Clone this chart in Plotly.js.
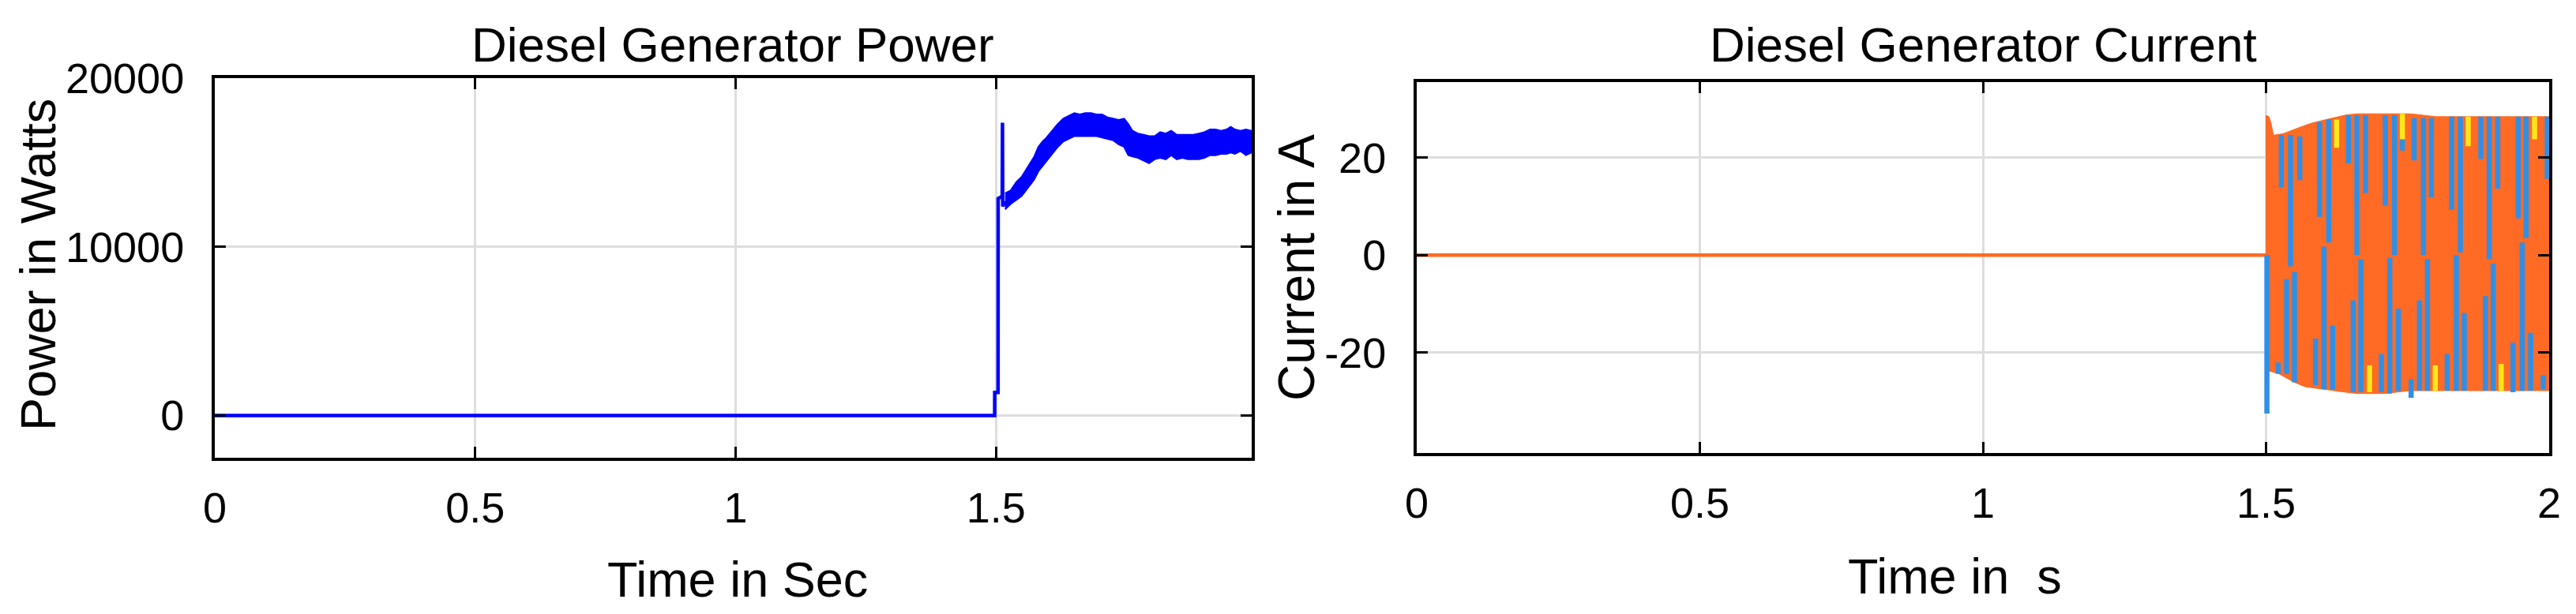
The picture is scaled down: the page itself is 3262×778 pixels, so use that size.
<!DOCTYPE html>
<html><head><meta charset="utf-8">
<script src="https://cdn.plot.ly/plotly-3.0.1.min.js"></script>
<style>html,body{margin:0;padding:0;background:#fff;}#chart{width:3262px;height:778px;}</style>
</head><body><div id="chart"></div>
<script>
// ---------------- data ----------------
// Left: Diesel generator power
const powerStepTime  = [0, 1.4975, 1.4976, 1.5040, 1.5042, 1.5120, 1.5125, 1.5130, 1.5175];
const powerStepWatts = [0, 0, 1370, 1370, 12860, 13000, 17360, 12400, 12700];

const powerBandTime = [1.5175,1.5282,1.5388,1.5494,1.5574,1.5654,1.5734,1.5813,1.5893,1.5973,
  1.6079,1.6186,1.6292,1.6398,1.6505,1.6611,1.6717,1.6824,1.6930,1.7036,
  1.7142,1.7249,1.7355,1.7461,1.7541,1.7621,1.7727,1.7834,1.7940,1.8046,
  1.8153,1.8259,1.8365,1.8472,1.8578,1.8684,1.8791,1.8897,1.9003,1.9110,
  1.9216,1.9322,1.9428,1.9508,1.9588,1.9694,1.9801,1.9907];
const powerBandUpper = [13180,13340,13830,14150,14550,14950,15350,15920,16240,16480,
  16880,17280,17600,17770,17930,17850,17930,17930,17850,17850,
  17680,17600,17520,17600,17280,16880,16720,16640,16560,16560,
  16800,16720,16880,16640,16640,16640,16640,16720,16800,16960,
  16960,16880,16960,17120,16960,16880,16960,16880];
const powerBandLower = [12220,12540,12780,13020,13340,13670,13990,14470,14790,15110,
  15510,15920,16240,16400,16560,16560,16560,16560,16560,16480,
  16400,16320,16080,15920,15430,15350,15270,15110,14950,15190,
  15270,15190,15430,15190,15270,15190,15190,15190,15270,15430,
  15430,15510,15510,15590,15510,15680,15430,15590];

const powerXTicks = [0, 0.5, 1, 1.5];
const powerXTickText = ['0', '0.5', '1', '1.5'];
const powerYTicks = [0, 10000, 20000];
const powerYTickText = ['0', '10000', '20000'];

// Right: Diesel generator current (three phases)
const currentFlatTime = [0, 1.5];
const currentFlatAmps = [0, 0];

const currentUpperTime = [1.5, 1.5, 1.505, 1.509, 1.513, 1.53, 1.55, 1.578, 1.606, 1.639, 1.66, 1.72, 1.755, 1.80, 1.90, 2.0];
const currentUpperAmps = [0, 28.7, 28.4, 27.0, 24.6, 24.9, 25.8, 27.0, 27.8, 28.7, 29.0, 29.0, 29.0, 28.4, 28.4, 28.4];
const currentLowerTime = [1.5005, 1.506, 1.522, 1.55, 1.569, 1.597, 1.639, 1.66, 1.708, 1.755, 1.80, 2.0];
const currentLowerAmps = [-23.8, -23.8, -24.3, -26.1, -27.0, -27.5, -28.1, -28.4, -28.4, -27.8, -27.8, -27.8];

const blueStripeTime = [1.5015,1.5214,1.5270,1.5363,1.5432,1.5502,1.5595,1.5874,1.5944,1.6023,
  1.6106,1.6176,1.6455,1.6539,1.6604,1.6674,1.6757,1.7036,1.7106,1.7185,
  1.7269,1.7338,1.7408,1.7562,1.7617,1.7710,1.7780,1.7850,1.7920,1.8199,
  1.8278,1.8361,1.8431,1.8501,1.8794,1.8873,1.8942,1.9012,1.9091,1.9361,
  1.9454,1.9523,1.9593,1.9672,1.9895,1.9965];
const blueStripeTop = [0,-22.03,24.64,-4.93,24.64,-3.48,24.35,-17.10,27.25,1.74,
  27.83,-14.49,28.70,-9.28,28.70,-0.87,28.70,-20.29,28.70,-0.58,
  28.70,-11.01,23.77,-25.51,28.12,-9.28,28.12,-0.87,28.12,-20.29,
  28.41,0.0,28.41,-11.88,28.41,-8.41,28.41,-1.74,28.41,-17.97,
  28.41,2.61,28.41,-15.94,-24.64,28.41];
const blueStripeBottom = [-32.5,-24.35,13.91,-24.35,-2.32,-26.09,15.36,-26.67,7.83,-27.54,
  2.61,-27.54,18.84,-28.12,0.0,-28.12,12.75,-28.12,10.14,-28.41,
  0.0,-27.83,21.45,-29.28,19.42,-27.83,0.0,-27.83,11.88,-27.83,
  9.28,-27.83,0.58,-27.83,19.71,-27.83,-0.87,-27.83,13.62,-28.12,
  7.54,-27.83,3.48,-27.83,-27.54,15.65];

const yellowStripeTime   = [1.6246, 1.6827, 1.7408, 1.7989, 1.8570, 1.9152, 1.9742];
const yellowStripeTop    = [27.83, -22.61, 28.99, -22.61, 28.41, -22.32, 28.41];
const yellowStripeBottom = [22.03, -28.12, 23.77, -27.83, 22.32, -27.83, 23.77];

const currentXTicks = [0, 0.5, 1, 1.5, 2];
const currentXTickText = ['0', '0.5', '1', '1.5', '2'];
const currentYTicks = [-20, 0, 20];
const currentYTickText = ['-20', '0', '20'];

// ---------------- build ----------------
const W = 3262, H = 778;
const px = v => v / W;
const py = v => 1 - v / H;

function stripes(t, top, bot) {
  const x = [], y = [];
  for (let i = 0; i < t.length; i++) { x.push(t[i], t[i], null); y.push(top[i], bot[i], null); }
  return {x, y};
}

const BLUE = '#0000ff';
const ORANGE = '#ff6a24';
const LBLUE = '#2f8fe6';
const YELLOW = '#ffe81a';

const bandX = powerBandTime.concat(powerBandTime.slice().reverse());
const bandY = powerBandUpper.concat(powerBandLower.slice().reverse());
const curX = currentUpperTime.concat(currentLowerTime.slice().reverse());
const curY = currentUpperAmps.concat(currentLowerAmps.slice().reverse());
const bs = stripes(blueStripeTime, blueStripeTop, blueStripeBottom);
const ys = stripes(yellowStripeTime, yellowStripeTop, yellowStripeBottom);

const traces = [
  {x: bandX, y: bandY, xaxis: 'x', yaxis: 'y', mode: 'lines', fill: 'toself', fillcolor: BLUE,
   line: {color: BLUE, width: 2}, hoverinfo: 'skip'},
  {x: powerStepTime, y: powerStepWatts, xaxis: 'x', yaxis: 'y', mode: 'lines',
   line: {color: BLUE, width: 4.5}},
  {x: currentFlatTime, y: currentFlatAmps, xaxis: 'x2', yaxis: 'y2', mode: 'lines',
   line: {color: ORANGE, width: 4.5}},
  {x: curX, y: curY, xaxis: 'x2', yaxis: 'y2', mode: 'lines', fill: 'toself', fillcolor: ORANGE,
   line: {color: ORANGE, width: 1}},
  {x: bs.x, y: bs.y, xaxis: 'x2', yaxis: 'y2', mode: 'lines', connectgaps: false,
   line: {color: LBLUE, width: 6.5}},
  {x: ys.x, y: ys.y, xaxis: 'x2', yaxis: 'y2', mode: 'lines', connectgaps: false,
   line: {color: YELLOW, width: 6.5}}
];

const FONT = 'Liberation Sans, Arial, Helvetica, sans-serif';
const axisBase = {
  showline: true, linecolor: '#000', linewidth: 4, mirror: 'ticks',
  ticks: 'inside', ticklen: 14, tickwidth: 3, tickcolor: '#000',
  showgrid: true, gridcolor: '#dedede', gridwidth: 3, zeroline: false,
  tickfont: {family: FONT, size: 54, color: '#000'}, tickmode: 'array', fixedrange: true
};

const layout = {
  width: W, height: H, margin: {l: 0, r: 0, t: 0, b: 0},
  paper_bgcolor: '#fff', plot_bgcolor: '#fff', showlegend: false,
  xaxis: Object.assign({}, axisBase, {domain: [px(272), px(1585)], range: [0, 1.991], anchor: 'y',
    tickvals: powerXTicks, ticktext: powerXTickText, ticklabelstandoff: 13}),
  yaxis: Object.assign({}, axisBase, {domain: [py(580), py(99)], range: [-2500, 20000], anchor: 'x',
    tickvals: powerYTicks, ticktext: powerYTickText, ticklabelstandoff: 24}),
  xaxis2: Object.assign({}, axisBase, {domain: [px(1794), px(3228)], range: [0, 2], anchor: 'y2',
    tickvals: currentXTicks, ticktext: currentXTickText, ticklabelstandoff: 13}),
  yaxis2: Object.assign({}, axisBase, {domain: [py(574), py(104)], range: [-40.6, 35.5], anchor: 'x2',
    tickvals: currentYTicks, ticktext: currentYTickText, ticklabelstandoff: 24}),
  annotations: [
    {text: 'Diesel Generator Power', xref: 'paper', yref: 'paper', x: px(928), y: py(56),
     xanchor: 'center', yanchor: 'middle', showarrow: false, font: {family: FONT, size: 62, color: '#000'}},
    {text: 'Diesel Generator Current', xref: 'paper', yref: 'paper', x: px(2511), y: py(56),
     xanchor: 'center', yanchor: 'middle', showarrow: false, font: {family: FONT, size: 62, color: '#000'}},
    {text: 'Time in Sec', xref: 'paper', yref: 'paper', x: px(934), y: py(734),
     xanchor: 'center', yanchor: 'middle', showarrow: false, font: {family: FONT, size: 63, color: '#000'}},
    {text: 'Time in\u00a0\u00a0s', xref: 'paper', yref: 'paper', x: px(2475), y: py(730),
     xanchor: 'center', yanchor: 'middle', showarrow: false, font: {family: FONT, size: 63, color: '#000'}},
    {text: 'Power in Watts', xref: 'paper', yref: 'paper', x: px(48), y: py(336), textangle: -90,
     xanchor: 'center', yanchor: 'middle', showarrow: false, font: {family: FONT, size: 63, color: '#000'}},
    {text: 'Current in A', xref: 'paper', yref: 'paper', x: px(1642), y: py(339), textangle: -90,
     xanchor: 'center', yanchor: 'middle', showarrow: false, font: {family: FONT, size: 64, color: '#000'}}
  ]
};

Plotly.newPlot('chart', traces, layout, {displayModeBar: false, staticPlot: true});
</script>
</body></html>
